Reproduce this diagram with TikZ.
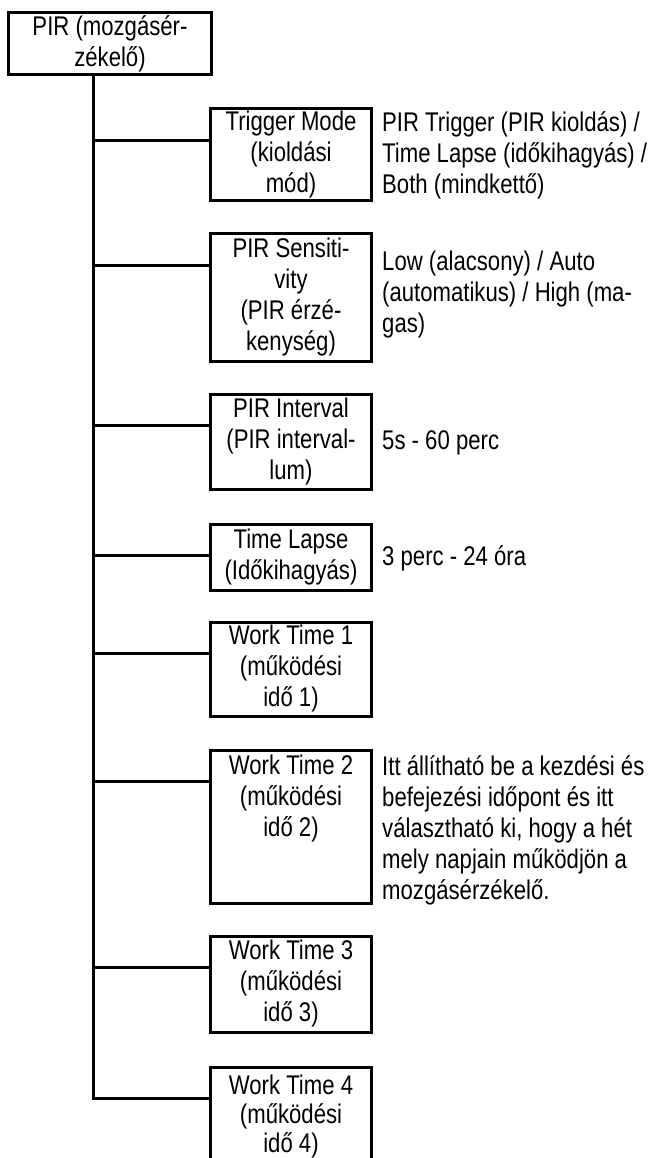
\documentclass[tikz,border=0pt]{standalone}
\usepackage{fontspec}
\setmainfont{Liberation Sans}[FakeStretch=0.82]
\usetikzlibrary{calc}
\begin{document}
\begin{tikzpicture}[x=1pt,y=-1pt,
  every node/.style={font=\fontsize{27}{31}\selectfont, inner sep=0pt},
  box/.style={draw, line width=3pt, minimum width=161pt, align=center},
  side/.style={anchor=west, align=left},
  conn/.style={line width=3pt}]
\useasboundingbox (0,0) rectangle (651,1158);
% root
\node[box, minimum width=203pt, minimum height=62pt] (root) at (110,44) {PIR (mozgásér-\\zékelő)};
% children
\node[box, minimum height=92pt] (trig) at (291,155) {Trigger Mode\\(kioldási\\mód)};
\node[box, minimum height=127pt] (sens) at (291,297.5) {PIR Sensiti-\\vity\\(PIR érzé-\\kenység)};
\node[box, minimum height=95pt] (int) at (291,441.5) {PIR Interval\\(PIR interval-\\lum)};
\node[box, minimum height=66pt] (tl) at (291,557) {Time Lapse\\(Időkihagyás)};
\node[box, minimum height=94pt] (wt1) at (291,669) {Work Time 1\\(működési\\idő 1)};
\node[box, minimum height=153pt] (wt2) at (291,826.5) {};
\node[align=center] (wt2t) at (291,799) {Work Time 2\\(működési\\idő 2)};
\node[box, minimum height=96pt] (wt3) at (291,984) {Work Time 3\\(működési\\idő 3)};
\node[box, minimum height=92pt] (wt4) at (291,1113) {};
\node[align=center, font=\fontsize{27}{29}\selectfont] (wt4t) at (291,1116) {Work Time 4\\(működési\\idő 4)};
% side texts
\node[side] (trigs) at (382,155) {PIR Trigger (PIR kioldás) /\\Time Lapse (időkihagyás) /\\Both (mindkettő)};
\node[side] (senss) at (382,295) {Low (alacsony) / Auto\\(automatikus) / High (ma-\\gas)};
\node[side] (ints) at (382,443) {5s - 60 perc};
\node[side] (tls) at (382,558) {3 perc - 24 óra};
\node[side] (wt2s) at (382,830) {Itt állítható be a kezdési és\\befejezési időpont és itt\\választható ki, hogy a hét\\mely napjain működjön a\\mozgásérzékelő.};
% connectors
\coordinate (tt) at (93,0 |- root.south);
\foreach \n in {trig,sens,int,tl,wt1,wt2,wt3,wt4}{
  \coordinate (c\n) at ($(\n.north west)+(0,33)$);
}
\foreach \n in {trig,sens,int,tl,wt1,wt2,wt3}{
  \draw[conn] (tt |- c\n) -- (c\n);
}
\draw[conn] (tt) |- (cwt4);
\end{tikzpicture}
\end{document}
